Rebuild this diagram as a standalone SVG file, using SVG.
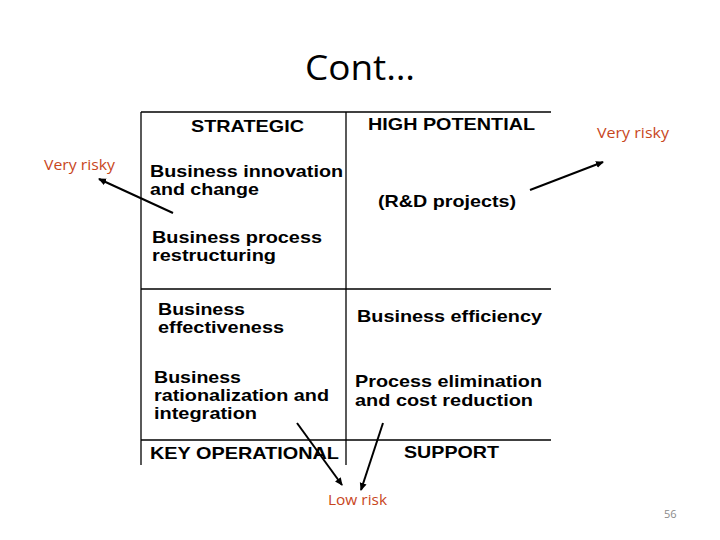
<svg xmlns="http://www.w3.org/2000/svg" width="720" height="540" viewBox="0 0 720 540">
<defs>
<marker id="ah" markerWidth="8" markerHeight="8" refX="7" refY="4" orient="auto" markerUnits="userSpaceOnUse"><path d="M0,0.5 L8,4 L0,7.5 Z" fill="#000"/></marker>
<style>
.t{font-family:"Liberation Sans",Arial,sans-serif;font-weight:bold;font-size:16.5px;fill:#000}
.r{font-family:"Open Sans","Liberation Sans",sans-serif;font-size:15px;fill:#c8461c}
.g{stroke:#000;stroke-width:1.3;fill:none}
.c{stroke:#000;stroke-width:2;fill:none;marker-end:url(#ah)}
</style>
</defs>
<rect width="720" height="540" fill="#fff"/>
<text x="360" y="80" text-anchor="middle" font-family="Open Sans, Liberation Sans, sans-serif" font-size="35" textLength="110" lengthAdjust="spacingAndGlyphs">Cont…</text>
<g id="grid">
<line class="g" x1="141" y1="112" x2="551" y2="112"/>
<line class="g" x1="141" y1="289" x2="551" y2="289"/>
<line class="g" x1="141" y1="440" x2="551" y2="440"/>
<line class="g" x1="141" y1="112" x2="141" y2="465"/>
<line class="g" x1="346" y1="112" x2="346" y2="465"/>
</g>
<g id="strategic">
<text class="t" x="191" y="132" textLength="113" lengthAdjust="spacingAndGlyphs">STRATEGIC</text>
<text class="t" x="150" y="177" textLength="193" lengthAdjust="spacingAndGlyphs">Business innovation</text>
<text class="t" x="150" y="195" textLength="109" lengthAdjust="spacingAndGlyphs">and change</text>
<text class="t" x="152" y="243" textLength="170" lengthAdjust="spacingAndGlyphs">Business process</text>
<text class="t" x="152" y="261" textLength="124" lengthAdjust="spacingAndGlyphs">restructuring</text>
</g>
<g id="high-potential">
<text class="t" x="368" y="130" textLength="167" lengthAdjust="spacingAndGlyphs">HIGH POTENTIAL</text>
<text class="t" x="378" y="207" textLength="138" lengthAdjust="spacingAndGlyphs">(R&amp;D projects)</text>
</g>
<g id="key-operational">
<text class="t" x="158" y="315" textLength="87" lengthAdjust="spacingAndGlyphs">Business</text>
<text class="t" x="158" y="333" textLength="126" lengthAdjust="spacingAndGlyphs">effectiveness</text>
<text class="t" x="154" y="383" textLength="87" lengthAdjust="spacingAndGlyphs">Business</text>
<text class="t" x="154" y="401" textLength="175" lengthAdjust="spacingAndGlyphs">rationalization and</text>
<text class="t" x="154" y="419" textLength="103" lengthAdjust="spacingAndGlyphs">integration</text>
<text class="t" x="150" y="459" textLength="189" lengthAdjust="spacingAndGlyphs">KEY OPERATIONAL</text>
</g>
<g id="support">
<text class="t" x="357" y="322" textLength="185" lengthAdjust="spacingAndGlyphs">Business efficiency</text>
<text class="t" x="355" y="387" textLength="187" lengthAdjust="spacingAndGlyphs">Process elimination</text>
<text class="t" x="355" y="406" textLength="178" lengthAdjust="spacingAndGlyphs">and cost reduction</text>
<text class="t" x="404" y="458" textLength="95" lengthAdjust="spacingAndGlyphs">SUPPORT</text>
</g>
<g id="labels">
<text class="r" x="44" y="170" textLength="71" lengthAdjust="spacingAndGlyphs">Very risky</text>
<text class="r" x="597" y="138" textLength="72" lengthAdjust="spacingAndGlyphs">Very risky</text>
<text class="r" x="328" y="505" textLength="59" lengthAdjust="spacingAndGlyphs">Low risk</text>
<text x="664" y="518" font-family="Open Sans, Liberation Sans, sans-serif" font-size="11" fill="#8a8a8a">56</text>
</g>
<g id="connectors">
<line class="c" x1="173" y1="213" x2="99" y2="179"/>
<line class="c" x1="530" y1="190" x2="603" y2="162"/>
<line class="c" x1="297" y1="423" x2="342" y2="485"/>
<line class="c" x1="383" y1="423" x2="361" y2="490"/>
</g>
</svg>
